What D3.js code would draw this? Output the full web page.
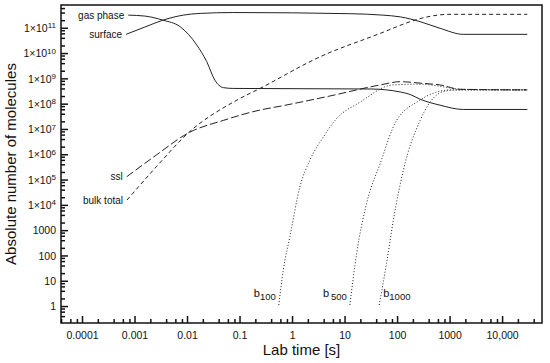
<!DOCTYPE html>
<html>
<head>
<meta charset="utf-8">
<script src="https://cdn.jsdelivr.net/npm/d3@7"></script>
<style>
  body { margin: 0; background: #fff; }
  svg { font-family: "Liberation Sans", Arial, sans-serif; }
  .tick text { font-size: 10.5px; fill: #111; }
  .axis-label { font-size: 15px; fill: #111; }
  .series-label { font-size: 10px; fill: #111; }
</style>
</head>
<body>
<svg width="550" height="363"></svg>
<script>
"use strict";

// time [s] and number of molecules
const gasTime = [7.6e-4, 1.58e-3, 3.47e-3, 7.4e-3, 0.0153, 0.0237, 0.0339, 0.049, 0.076, 31.6, 115, 178, 275, 661, 1820, 30200];
const gasValue = [3.16e11, 2.9e11, 2.0e11, 1.1e11, 2.1e10, 4.6e9, 8.5e8, 4.3e8, 4.0e8, 3.8e8, 2.9e8, 2.3e8, 1.5e8, 8.7e7, 5.9e7, 5.9e7];

const surfaceTime = [6.9e-4, 1.58e-3, 3.47e-3, 8.5e-3, 0.0178, 0.076, 12.6, 53.7, 115, 275, 661, 1820, 30200];
const surfaceValue = [5.5e10, 1.07e11, 2.0e11, 3.16e11, 3.7e11, 4.0e11, 3.6e11, 3.16e11, 2.7e11, 1.74e11, 9.5e10, 5.5e10, 5.5e10];

const bulkTime = [7.2e-4, 2.6e-3, 0.0105, 0.089, 0.245, 3.4, 47.9, 178, 275, 1020, 30200];
const bulkValue = [1.55e4, 3.2e5, 6.9e6, 1.38e8, 4.0e8, 7.1e9, 6.0e10, 1.74e11, 2.3e11, 3.4e11, 3.4e11];

const sslTime = [7.1e-4, 2.6e-3, 0.0105, 0.05, 0.245, 0.59, 5.2, 47.9, 115, 316, 661, 1580, 30200];
const sslValue = [1.29e5, 9.3e5, 6.9e6, 2.2e7, 5.6e7, 7.9e7, 2.0e8, 5.5e8, 7.4e8, 6.3e8, 5.5e8, 3.7e8, 3.5e8];

const b100Time = [0.56, 0.68, 0.91, 1.41, 2.19, 3.98, 6.6, 20, 83, 275, 1020, 1580, 30200];
const b100Value = [1.1, 26, 550, 5.2e4, 5.9e5, 4.9e6, 2.2e7, 1.17e8, 5.5e8, 5.9e8, 4.2e8, 3.7e8, 3.5e8];

const b500Time = [12.6, 17, 26.3, 47.9, 98, 115, 240, 490, 1020, 1580, 30200];
const b500Value = [1.1, 120, 1.15e4, 4.4e5, 2.2e7, 3.5e7, 1.17e8, 2.6e8, 3.5e8, 3.5e8, 3.5e8];

const b1000Time = [45.7, 63, 85, 132, 275, 427, 760, 1380, 30200];
const b1000Value = [1.1, 49, 2500, 2.4e5, 2.2e7, 1.17e8, 3.0e8, 3.5e8, 3.5e8];

const xTicks = [1e-4, 1e-3, 0.01, 0.1, 1, 10, 100, 1000, 10000];
const xTickLabels = ["0.0001", "0.001", "0.01", "0.1", "1", "10", "100", "1000", "10,000"];
const yTicks = [1, 10, 100, 1000, 1e4, 1e5, 1e6, 1e7, 1e8, 1e9, 1e10, 1e11];

const svg = d3.select("svg");
const margin = { top: 5, left: 61, right: 8, bottom: 40 };
const width = +svg.attr("width");
const height = +svg.attr("height");
const innerWidth = width - margin.left - margin.right;
const innerHeight = height - margin.top - margin.bottom;

const xScale = d3
  .scaleLog()
  .domain([Math.pow(10, -4.4), Math.pow(10, 4.76)])
  .range([0, innerWidth]);

const yScale = d3
  .scaleLog()
  .domain([Math.pow(10, -0.67), Math.pow(10, 11.9)])
  .range([innerHeight, 0]);

const g = svg
  .append("g")
  .attr("transform", `translate(${margin.left},${margin.top})`);

// minor ticks at 2,4,6,8 in each decade
const minors = (lo, hi) => {
  const out = [];
  for (let e = lo; e <= hi; e++) {
    [2, 4, 6, 8].forEach(m => out.push(m * Math.pow(10, e)));
  }
  return out;
};
const xMinor = minors(-5, 4).filter(v => v > xScale.domain()[0] && v < xScale.domain()[1]);
const yMinor = minors(-1, 11).filter(v => v > yScale.domain()[0] && v < yScale.domain()[1]);

const xAxisG = g
  .append("g")
  .attr("transform", `translate(0,${innerHeight})`)
  .call(
    d3.axisBottom(xScale)
      .tickValues(xTicks)
      .tickSizeInner(-7)
      .tickSizeOuter(0)
      .tickPadding(9)
      .tickFormat((d, i) => xTickLabels[i])
  );
xAxisG.select(".domain").remove();

const xMinorG = g
  .append("g")
  .attr("transform", `translate(0,${innerHeight})`)
  .call(d3.axisBottom(xScale).tickValues(xMinor).tickSizeInner(-4).tickSizeOuter(0));
xMinorG.select(".domain").remove();
xMinorG.selectAll("text").remove();

const yAxisG = g
  .append("g")
  .call(
    d3.axisLeft(yScale)
      .tickValues(yTicks)
      .tickSizeInner(-7)
      .tickSizeOuter(0)
      .tickPadding(12)
      .tickFormat("")
  );
yAxisG.select(".domain").remove();

const yMinorG = g
  .append("g")
  .call(d3.axisLeft(yScale).tickValues(yMinor).tickSizeInner(-4).tickSizeOuter(0));
yMinorG.select(".domain").remove();
yMinorG.selectAll("text").remove();

g.selectAll(".tick line").attr("stroke", "#111").attr("stroke-width", 1.5);

// y labels with superscript exponents
yAxisG.selectAll(".tick text").each(function(d) {
  const t = d3.select(this).attr("x", -5).attr("dy", "0.35em");
  const exp = Math.round(Math.log10(d));
  if (exp < 4) {
    t.text(String(d));
  } else {
    t.append("tspan").text("1\u00d710");
    t.append("tspan").attr("dy", "-0.45em").style("font-size", "8px").text(exp);
  }
});

g.append("rect")
  .attr("width", innerWidth)
  .attr("height", innerHeight)
  .attr("fill", "none")
  .attr("stroke", "#111")
  .attr("stroke-width", 1.5);

const line = d3
  .line()
  .x(d => xScale(d[0]))
  .y(d => yScale(d[1]))
  .curve(d3.curveMonotoneX);

const series = [
  { name: "gas phase", time: gasTime, value: gasValue, dash: null },
  { name: "surface", time: surfaceTime, value: surfaceValue, dash: null },
  { name: "bulk total", time: bulkTime, value: bulkValue, dash: "4,3" },
  { name: "ssl", time: sslTime, value: sslValue, dash: "8,3" },
  { name: "b100", time: b100Time, value: b100Value, dash: "1,2" },
  { name: "b500", time: b500Time, value: b500Value, dash: "1,2" },
  { name: "b1000", time: b1000Time, value: b1000Value, dash: "1,2" }
];

g.selectAll("path.series")
  .data(series)
  .enter()
  .append("path")
  .attr("class", "series")
  .attr("d", d => line(d.time.map((t, i) => [t, d.value[i]])))
  .attr("fill", "none")
  .attr("stroke", "#222")
  .attr("stroke-width", 1)
  .attr("stroke-dasharray", d => d.dash);

// labels at the start of the four main curves
series.slice(0, 4).forEach(s => {
  g.append("text")
    .attr("class", "series-label")
    .attr("x", xScale(s.time[0]) - 4)
    .attr("y", yScale(s.value[0]))
    .attr("dy", "0.35em")
    .attr("text-anchor", "end")
    .text(s.name);
});

// b labels with subscripts
const bLabels = [
  { sub: "100", time: b100Time, dx: -3, anchor: "end" },
  { sub: "500", time: b500Time, dx: -3, anchor: "end" },
  { sub: "1000", time: b1000Time, dx: 4, anchor: "start" }
];
bLabels.forEach(b => {
  const t = g.append("text")
    .attr("class", "series-label")
    .attr("x", xScale(b.time[0]) + b.dx)
    .attr("y", innerHeight - 26)
    .attr("text-anchor", b.anchor)
    .style("font-size", "11px");
  t.append("tspan").text("b");
  t.append("tspan").attr("dy", "0.3em").style("font-size", "9.5px").text((b.sub === "500" ? "\u2009" : "") + b.sub);
});

g.append("text")
  .attr("class", "axis-label")
  .attr("x", innerWidth / 2)
  .attr("y", innerHeight + 32)
  .attr("text-anchor", "middle")
  .text("Lab time [s]");

g.append("text")
  .attr("class", "axis-label")
  .attr("transform", "rotate(-90)")
  .attr("x", -innerHeight / 2)
  .attr("y", -margin.left + 16)
  .attr("text-anchor", "middle")
  .text("Absolute number of molecules");
</script>
</body>
</html>
